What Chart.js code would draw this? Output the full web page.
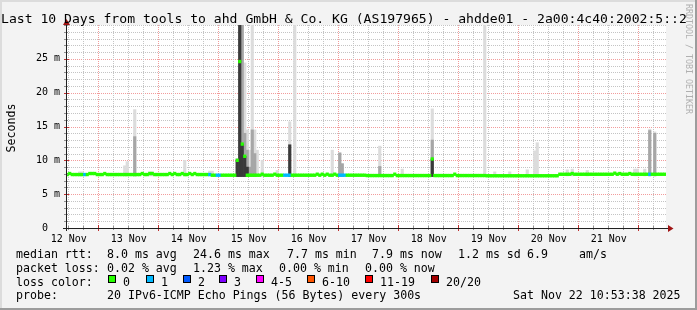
<!DOCTYPE html>
<html>
<head>
<meta charset="utf-8">
<title>Last 10 Days - ahdde01</title>
<script src="https://cdn.jsdelivr.net/npm/chart.js@4.4.1/dist/chart.umd.min.js"></script>
<style>
  html, body { margin: 0; padding: 0; background: #f3f3f3; overflow: hidden; }
  canvas { display: block; }
</style>
</head>
<body>
<canvas id="chart" width="697" height="310"></canvas>
<script>
// time axis in hours after 12 Nov 00:00; graph ends Sat Nov 22 10:53:38
const graphStart = 10.9;
const graphHours = 240;
const dayLabels = ['12 Nov', '13 Nov', '14 Nov', '15 Nov', '16 Nov', '17 Nov', '18 Nov', '19 Nov', '20 Nov', '21 Nov'];
const yTicks = [0, 5, 10, 15, 20, 25];
const yMax = 30;

// median rtt (ms), one value per hour from the start of the graph
const medianRtt = [
  7.9, 8.05, 7.9, 7.9, 7.9, 7.9, 7.9, 7.9, 7.9, 8.05, 8.05, 8.05, 7.9, 7.9, 7.9, 8.05, 7.9, 7.9, 7.9, 7.9, 7.9, 7.9, 7.9, 7.9,
  7.9, 7.9, 7.9, 7.9, 7.9, 7.9, 8.05, 7.9, 7.9, 8.05, 8.05, 7.9, 7.9, 7.9, 7.9, 7.9, 7.9, 8.05, 7.9, 8.05, 7.9, 7.9, 8.05, 7.9,
  7.9, 8.05, 7.9, 8.05, 7.9, 7.9, 7.9, 7.9, 7.9, 7.9, 7.8, 7.8, 7.8, 7.8, 7.8, 7.8, 7.8, 7.8, 7.8, 7.8, 10.0, 24.6, 12.4, 10.6,
  7.8, 7.8, 7.8, 7.8, 7.8, 7.8, 7.95, 7.8, 7.8, 7.8, 7.8, 7.95, 7.8, 7.8, 7.8, 7.8, 7.8, 7.8, 7.8, 7.8, 7.8, 7.8, 7.8, 7.8,
  7.8, 7.8, 7.8, 7.8, 7.95, 7.8, 7.95, 7.8, 7.95, 7.8, 7.8, 7.95, 7.8, 7.8, 7.8, 7.8, 7.8, 7.8, 7.8, 7.8, 7.8, 7.8, 7.8, 7.8,
  7.75, 7.75, 7.75, 7.75, 7.75, 7.75, 7.75, 7.75, 7.75, 7.75, 7.75, 7.95, 7.75, 7.75, 7.75, 7.75, 7.75, 7.75, 7.75, 7.75, 7.75, 7.75, 7.75, 7.75,
  7.75, 7.75, 10.2, 7.75, 7.75, 7.75, 7.75, 7.75, 7.75, 7.75, 7.75, 7.95, 7.75, 7.75, 7.75, 7.75, 7.75, 7.75, 7.75, 7.75, 7.75, 7.75, 7.75, 7.75,
  7.72, 7.72, 7.72, 7.72, 7.72, 7.72, 7.72, 7.72, 7.72, 7.72, 7.72, 7.72, 7.72, 7.72, 7.72, 7.72, 7.72, 7.72, 7.72, 7.72, 7.72, 7.72, 7.72, 7.72,
  7.72, 7.72, 7.72, 7.72, 7.72, 7.94, 7.94, 7.94, 7.94, 7.94, 8.05, 7.94, 7.94, 7.94, 7.94, 7.94, 7.94, 7.94, 7.94, 7.94, 7.94, 7.94, 7.94, 7.94,
  7.94, 7.94, 7.94, 8.1, 7.94, 8.05, 7.94, 7.94, 7.94, 8.05, 7.94, 7.94, 7.94, 7.94, 7.94, 7.94, 7.94, 7.94, 7.94, 7.94, 7.94, 7.94, 7.94, 7.94
];

// hours with lost pings (out of 20)
const lossHour = [7, 57, 60, 61, 87, 88, 89, 109, 110, 111, 233];
const lossPings = [1, 1, 1, 1, 1, 1, 1, 1, 1, 1, 1];

// smoke: spread of the 20 pings, only for the hours where it shows
const smokeHour = [5, 6, 23, 24, 27, 33, 34, 47, 57, 58, 68, 69, 70, 71, 72, 73, 74, 75, 76, 78, 84, 89, 91, 106, 109,
  110, 125, 134, 146, 167, 171, 177, 184, 187, 188, 200, 202, 208, 227, 228, 231, 233, 235];
const smokeLow = [7.7, 7.7, 7.7, 7.7, 7.7, 7.7, 7.7, 7.7, 7.7, 7.7, 7.6, 7.6, 7.6, 7.6, 7.6, 7.6, 7.6, 7.6, 7.6, 7.6, 7.6, 7.6, 7.6, 7.6, 7.6,
  7.6, 7.6, 7.6, 7.6, 7.6, 7.6, 7.6, 7.6, 7.6, 7.6, 7.7, 7.7, 7.7, 7.7, 7.7, 7.7, 7.7, 7.7];
const smokeTop = [8.3, 8.3, 9.2, 9.8, 17.5, 8.3, 8.3, 10.0, 8.4, 8.4, 10.2, 31, 31, 24.4, 14.5, 11.5, 31, 14.5, 11.5, 10.0, 8.5, 15.7, 31, 11.5, 11.1,
  9.5, 12.1, 8.7, 17.6, 31, 8.3, 8.3, 8.6, 11.4, 12.6, 8.6, 8.7, 8.5, 8.7, 8.7, 8.7, 14.6, 14.2];
const smokeMid = [null, null, null, null, 13.5, null, null, null, null, null, 10.2, 31, 31, 14, 11.5, 9.0, 14.5, 11, null, null, null, null, null, null, 11.1,
  9.5, 9.1, null, 13, null, null, null, null, null, null, null, null, null, null, null, null, 14.4, 14.0];
const smokeDark = [null, null, null, null, null, null, null, null, null, null, 10.0, 31, 12.4, 10.6, 9.0, null, null, null, null, null, null, 12.3, null, null, null,
  null, null, null, 10.2, null, null, null, null, null, null, null, null, null, null, null, null, null, null];

const lossLabels = ['0', '1', '2', '3', '4-5', '6-10', '11-19', '20/20'];
const lossColors = ['#26ff00', '#00b8ff', '#0059ff', '#7e00ff', '#ff00ff', '#ff5500', '#ff0000', '#a10000'];

const mono = '"DejaVu Sans Mono", "Liberation Mono", monospace';
const minorGrid = '#c4c4c4';
const majorGrid = '#f29c9c';
const arrowRed = '#a01414';

function lossClass(n) {
  if (n <= 3) return n;
  if (n <= 5) return 4;
  if (n <= 10) return 5;
  if (n < 20) return 6;
  return 7;
}

function lossAt(i) {
  const k = lossHour.indexOf(i);
  return k < 0 ? 0 : lossPings[k];
}

function smokeSet(upper, color, order) {
  const data = [];
  smokeHour.forEach((h, k) => {
    if (upper[k] != null) data.push({ x: graphStart + h + 0.5, y: [smokeLow[k], upper[k]] });
  });
  return { data, backgroundColor: color, order };
}

// draws the rrdtool style frame, grid, axes and all the text
const rrdLook = {
  id: 'rrdLook',
  beforeDraw(chart) {
    const { ctx, chartArea: a, scales: { x, y } } = chart;
    ctx.save();
    ctx.fillStyle = '#f3f3f3';
    ctx.fillRect(0, 0, chart.width, chart.height);
    ctx.fillStyle = '#dcdcdc';
    ctx.fillRect(0, 0, chart.width, 2);
    ctx.fillRect(0, 0, 2, chart.height);
    ctx.fillStyle = '#9c9c9c';
    ctx.fillRect(chart.width - 2, 0, 2, chart.height);
    ctx.fillRect(0, chart.height - 2, chart.width, 2);
    ctx.fillStyle = '#ffffff';
    ctx.fillRect(a.left, a.top, a.right - a.left, a.bottom - a.top);

    for (let v = 1; v <= yMax; v++) {
      const py = Math.round(y.getPixelForValue(v));
      ctx.fillStyle = (v % 5 === 0 && v < yMax) ? majorGrid : minorGrid;
      for (let px = a.left + 1; px < a.right; px += 2) ctx.fillRect(px, py, 1, 1);
    }
    for (let h = Math.ceil(x.min / 6) * 6; h < x.max; h += 6) {
      const px = Math.floor(x.getPixelForValue(h));
      ctx.fillStyle = h % 24 === 0 ? majorGrid : minorGrid;
      for (let py = Math.round(a.top); py < a.bottom; py += 2) ctx.fillRect(px, py, 1, 1);
    }
    ctx.restore();
  },
  afterDatasetsDraw(chart) {
    const { ctx, chartArea: a, scales: { x, y } } = chart;
    ctx.save();

    // tick marks
    for (let v = 1; v <= yMax; v++) {
      const py = Math.round(y.getPixelForValue(v));
      const major = v % 5 === 0 && v < yMax;
      ctx.fillStyle = major ? '#c03030' : '#909090';
      ctx.fillRect(a.left - 2, py, major ? 5 : 4, 1);
    }
    for (let h = Math.ceil(x.min / 6) * 6; h < x.max; h += 6) {
      const px = Math.floor(x.getPixelForValue(h));
      const major = h % 24 === 0;
      ctx.fillStyle = major ? '#c03030' : '#909090';
      ctx.fillRect(px, a.bottom - (major ? 3 : 2), 1, major ? 6 : 4);
    }

    // axes
    ctx.fillStyle = '#202020';
    ctx.fillRect(a.left - 3, Math.round(a.bottom), a.right - a.left + 6, 1);
    ctx.fillRect(a.left, a.top - 2, 1, a.bottom - a.top + 5);

    // arrows
    ctx.fillStyle = arrowRed;
    ctx.beginPath();
    ctx.moveTo(a.right + 2, a.bottom - 3);
    ctx.lineTo(a.right + 7.5, a.bottom + 0.5);
    ctx.lineTo(a.right + 2, a.bottom + 4);
    ctx.closePath();
    ctx.fill();
    ctx.beginPath();
    ctx.moveTo(a.left - 3, a.top);
    ctx.lineTo(a.left + 0.5, a.top - 6);
    ctx.lineTo(a.left + 4, a.top);
    ctx.closePath();
    ctx.fill();

    // title
    ctx.fillStyle = '#000';
    ctx.textAlign = 'left';
    ctx.textBaseline = 'alphabetic';
    ctx.font = '13.1px ' + mono;
    ctx.fillText('Last 10 Days from tools to ahd GmbH & Co. KG (AS197965) - ahdde01 - 2a00:4c40:2002:5::2', 1, 23);

    // axis labels
    ctx.font = '10px ' + mono;
    ctx.textAlign = 'right';
    ctx.textBaseline = 'middle';
    yTicks.forEach(v => {
      const py = y.getPixelForValue(v);
      if (v === 0) ctx.fillText('0', 48, py);
      else ctx.fillText(v + ' m', 60, py);
    });
    ctx.textAlign = 'center';
    ctx.textBaseline = 'alphabetic';
    dayLabels.forEach((d, k) => ctx.fillText(d, x.getPixelForValue(12 + 24 * k), 241.5));

    ctx.font = '11.6px ' + mono;
    ctx.save();
    ctx.translate(11.5, 128);
    ctx.rotate(-Math.PI / 2);
    ctx.textBaseline = 'middle';
    ctx.fillText('Seconds', 0, 0);
    ctx.restore();

    // legend lines
    ctx.textAlign = 'left';
    const rows = [
      [258, [[16, 'median rtt:'], [107, '8.0 ms avg'], [193, '24.6 ms max'], [287, '7.7 ms min'], [372, '7.9 ms now'],
             [458, '1.2 ms sd'], [527, '6.9'], [579, 'am/s']]],
      [271.7, [[16, 'packet loss:'], [107, '0.02 % avg'], [193, '1.23 % max'], [279, '0.00 % min'], [365, '0.00 % now']]],
      [285.6, [[16, 'loss color:']]],
      [299.2, [[16, 'probe:'], [107, '20 IPv6-ICMP Echo Pings (56 Bytes) every 300s'], [513, 'Sat Nov 22 10:53:38 2025']]]
    ];
    rows.forEach(([by, items]) => items.forEach(([tx, t]) => ctx.fillText(t, tx, by)));

    const boxX = [108, 146, 183, 219, 256, 307, 365, 431];
    lossLabels.forEach((lab, k) => {
      ctx.fillStyle = lossColors[k];
      ctx.fillRect(boxX[k], 275, 8, 8);
      ctx.strokeStyle = '#000';
      ctx.lineWidth = 1;
      ctx.strokeRect(boxX[k] + 0.5, 275.5, 7, 7);
      ctx.fillStyle = '#000';
      ctx.fillText(lab, boxX[k] + 15, 285.6);
    });

    // watermark
    ctx.save();
    ctx.translate(688.5, 4);
    ctx.rotate(Math.PI / 2);
    ctx.font = '8.3px ' + mono;
    ctx.fillStyle = '#b0b0b0';
    ctx.textBaseline = 'middle';
    ctx.fillText('RRDTOOL / TOBI OETIKER', 0, 0);
    ctx.restore();

    ctx.restore();
  }
};

const medianSet = {
  data: medianRtt.map((v, i) => ({ x: graphStart + i + 0.5, y: [v - 0.2, v + 0.2] })),
  backgroundColor: medianRtt.map((v, i) => lossColors[lossClass(lossAt(i))]),
  order: 0
};

new Chart(document.getElementById('chart'), {
  type: 'bar',
  data: {
    datasets: [
      medianSet,
      smokeSet(smokeDark, '#3a3a3a', 1),
      smokeSet(smokeMid, '#a6a6a6', 2),
      smokeSet(smokeTop, '#dcdcdc', 3)
    ]
  },
  options: {
    responsive: false,
    animation: false,
    layout: { padding: { left: 66, right: 31, top: 25, bottom: 82 } },
    datasets: { bar: { grouped: false, barPercentage: 1, categoryPercentage: 1, borderWidth: 0 } },
    plugins: { legend: { display: false }, tooltip: { enabled: false } },
    scales: {
      x: { type: 'linear', display: false, offset: false, min: graphStart, max: graphStart + graphHours },
      y: { display: false, min: 0, max: yMax }
    }
  },
  plugins: [rrdLook]
});
</script>
</body>
</html>
